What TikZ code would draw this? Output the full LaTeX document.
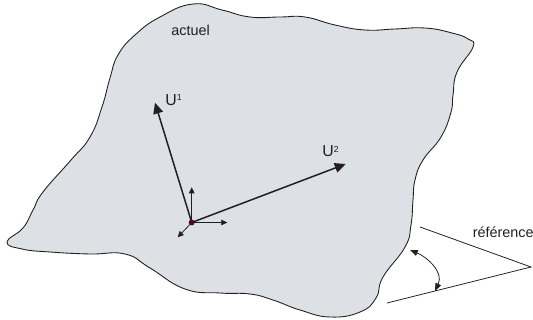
\documentclass[tikz,border=0pt]{standalone}
\usepackage{fontspec}
\setmainfont{Liberation Sans}
\usetikzlibrary{arrows.meta}
\definecolor{bodygray}{HTML}{DDE0E5}
\definecolor{inkgray}{HTML}{231F20}
\definecolor{dotred}{HTML}{4A0F1E}
\newcommand{\sppow}[1]{\raisebox{2.6pt}{\fontsize{5}{5}\selectfont #1}}
\begin{document}
\begin{tikzpicture}[
  x=0.02cm, y=-0.02cm,
  note/.style={font=\fontsize{8.2}{10}\selectfont, text=inkgray, inner sep=0pt},
  veclabel/.style={font=\fontsize{9}{10}\selectfont, text=inkgray, inner sep=0pt},
  bigvec/.style={-{Triangle[length=6.2pt,width=5.6pt]}, line width=0.85pt, draw=inkgray},
  smallvec/.style={-{Triangle[length=3.4pt,width=3.2pt]}, line width=0.45pt, draw=inkgray},
  refline/.style={line width=0.45pt, draw=inkgray}
]
\useasboundingbox (0,0) rectangle (533,320);
% actual configuration
\draw[line width=0.5pt, draw=inkgray, fill=bodygray] plot[smooth cycle, tension=0.8] coordinates {
  (193,4) (222,10) (250,17) (280,17) (305,17) (335,25) (365,30) (395,29) (425,28) (452,33) (468,39) (473,47)
  (457,72) (453,95) (451,112) (441,137) (423,160) (415,180) (413,200) (411,225) (405,247) (383,277) (376,298)
  (360,312) (330,317) (300,310) (273,300) (250,294) (220,293) (185,289) (150,268) (125,254) (90,254) (50,252)
  (22,249) (7,242) (23,228) (33,210) (43,192) (71,160) (90,137) (102,107) (110,78) (118,55) (135,35) (160,17)};
% base vectors
\coordinate (origin) at (191.7,222.5);
\coordinate (tipone) at (155,102.7);
\coordinate (tiptwo) at (345.7,164);
\coordinate (tipup) at (191.7,187.3);
\coordinate (tipright) at (227.3,222.5);
\coordinate (tipdiag) at (177.7,237.3);
\draw[smallvec] (origin) -- (tipup);
\draw[smallvec] (origin) -- (tipright);
\draw[smallvec] (origin) -- (tipdiag);
\draw[bigvec] (origin) -- (tipone);
\draw[bigvec] (origin) -- (tiptwo);
\node[circle, fill=dotred, inner sep=0pt, minimum size=3.4pt] (dot) at (origin) {};
\node[veclabel, anchor=base west] (labelone) at (165,105.3) {U\sppow{1}};
\node[veclabel, anchor=base west] (labeltwo) at (322,157) {U\sppow{2}};
\node[note, anchor=base west] (labelactuel) at (171,36) {actuel};
% reference corner
\node[note, anchor=base east] (labelref) at (534,237.5) {référence};
\coordinate (apex) at (531,267);
\coordinate (refup) at (420,227);
\coordinate (reflow) at (387,303);
\coordinate (angleup) at (410,250);
\coordinate (anglelow) at (435,291);
\draw[refline] (refup) -- (apex) -- (reflow);
\draw[smallvec, {Triangle[length=4.4pt,width=3.4pt]}-{Triangle[length=4.4pt,width=3.4pt]}]
  (angleup) .. controls (427,257) and (444,272) .. (anglelow);
\end{tikzpicture}
\end{document}
